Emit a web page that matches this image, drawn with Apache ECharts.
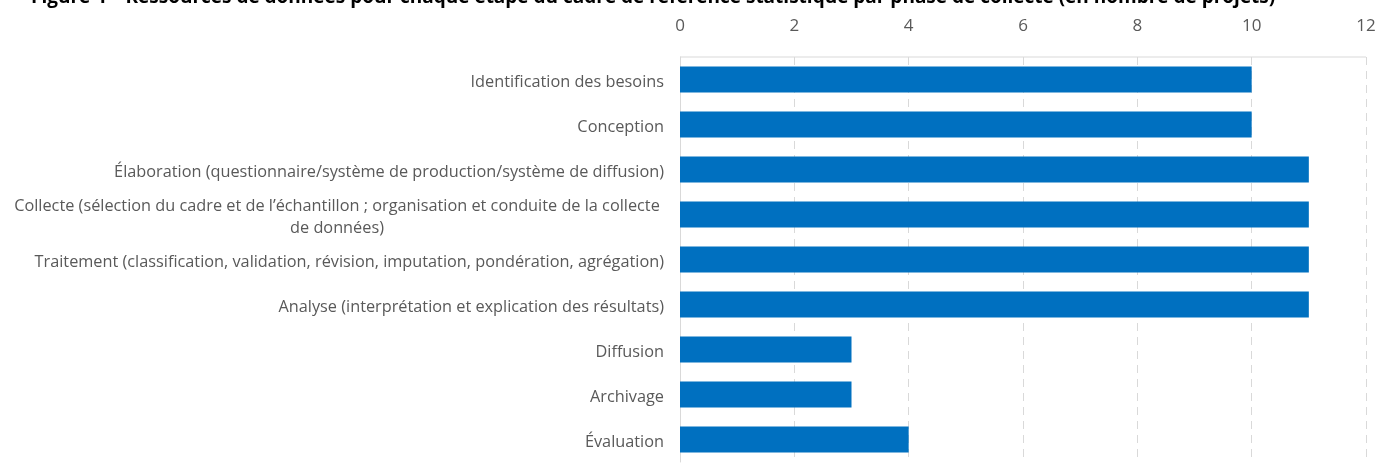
<!DOCTYPE html>
<html>
<head>
<meta charset="utf-8">
<script src="https://cdn.jsdelivr.net/npm/echarts@6/dist/echarts.min.js"></script>
<style>
  html, body { margin: 0; padding: 0; background: #fff; }
  #chart { width: 1384px; height: 467px; }
</style>
</head>
<body>
<div id="chart"></div>
<script>
const categories = [
  'Identification des besoins',
  'Conception',
  'Élaboration (questionnaire/système de production/système de diffusion)',
  'Collecte (sélection du cadre et de l’échantillon ; organisation et conduite de la collecte\nde données)',
  'Traitement (classification, validation, révision, imputation, pondération, agrégation)',
  'Analyse (interprétation et explication des résultats)',
  'Diffusion',
  'Archivage',
  'Évaluation'
];
const values = [10, 10, 11, 11, 11, 11, 3, 3, 4];
const tickMin = 0, tickMax = 12, tickStep = 2;

const labelFont = 'Open Sans';
const myChart = echarts.init(document.getElementById('chart'));
const option = {
  animation: false,
  title: {
    // titre coupé en haut de l'image
    text: 'Figure 4 – Ressources de données pour chaque étape du cadre de référence statistique par phase de collecte (en nombre de projets)',
    left: 26,
    top: -17,
    textStyle: { fontFamily: labelFont, fontSize: 19, fontWeight: 'bold', color: '#000' }
  },
  grid: { left: 680, right: 18, top: 57, bottom: 5 },
  xAxis: {
    type: 'value',
    position: 'top',
    min: tickMin,
    max: tickMax,
    interval: tickStep,
    axisLine: { show: false },
    axisTick: { show: false },
    axisLabel: { color: '#595959', fontFamily: labelFont, fontSize: 17, margin: 22 },
    splitLine: { show: true, lineStyle: { color: '#d9d9d9', type: [8, 6], width: 1 } }
  },
  yAxis: {
    type: 'category',
    inverse: true,
    data: categories,
    axisLine: { show: true, lineStyle: { color: '#d9d9d9' } },
    axisTick: { show: false },
    axisLabel: {
      color: '#595959',
      fontFamily: labelFont,
      fontSize: 16.3,
      margin: 16,
      lineHeight: 22,
      padding: [6, 0, 0, 0],
      formatter: (v) => {
        if (v.indexOf('\n') < 0) return v;
        return v.split('\n').map(s => '{c|' + s + '}').join('\n');
      },
      rich: {
        c: { width: 654, align: 'center', color: '#595959', fontFamily: labelFont, fontSize: 16.3, lineHeight: 22 }
      }
    }
  },
  series: [
    {
      type: 'bar',
      data: values,
      barWidth: 26,
      itemStyle: { color: '#0070c0' }
    }
  ],
  graphic: [
    { type: 'line', shape: { x1: 680, y1: 57, x2: 1366, y2: 57 }, style: { stroke: '#d9d9d9', lineWidth: 1 } }
  ]
};
myChart.setOption(option);
</script>
</body>
</html>
